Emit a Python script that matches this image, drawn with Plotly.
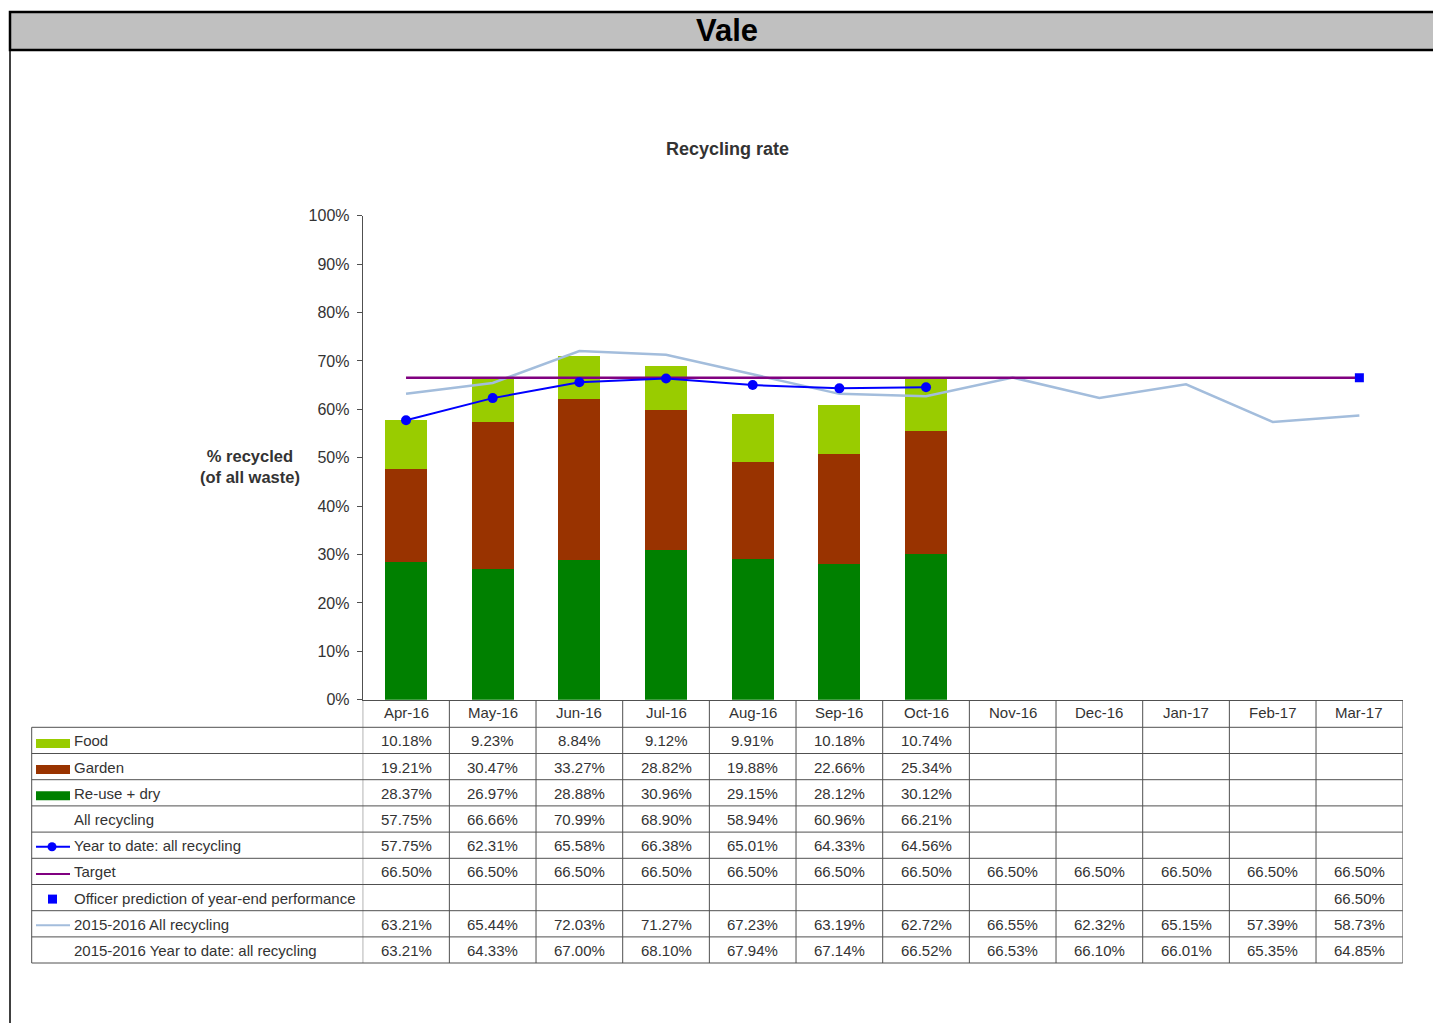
import plotly.graph_objects as go

# ---------------- data ----------------
months = ["Apr-16", "May-16", "Jun-16", "Jul-16", "Aug-16", "Sep-16", "Oct-16",
          "Nov-16", "Dec-16", "Jan-17", "Feb-17", "Mar-17"]
food = [10.18, 9.23, 8.84, 9.12, 9.91, 10.18, 10.74]
garden = [19.21, 30.47, 33.27, 28.82, 19.88, 22.66, 25.34]
reuse_dry = [28.37, 26.97, 28.88, 30.96, 29.15, 28.12, 30.12]
all_recycling = [57.75, 66.66, 70.99, 68.90, 58.94, 60.96, 66.21]
ytd_all = [57.75, 62.31, 65.58, 66.38, 65.01, 64.33, 64.56]
target = [66.50] * 12
officer_pred = [None] * 11 + [66.50]
prev_all = [63.21, 65.44, 72.03, 71.27, 67.23, 63.19, 62.72, 66.55, 62.32, 65.15, 57.39, 58.73]
prev_ytd = [63.21, 64.33, 67.00, 68.10, 67.94, 67.14, 66.52, 66.53, 66.10, 66.01, 65.35, 64.85]

row_labels = ["Food", "Garden", "Re-use + dry", "All recycling", "Year to date: all recycling",
              "Target", "Officer prediction of year-end performance",
              "2015-2016 All recycling", "2015-2016 Year to date: all recycling"]
row_values = [food, garden, reuse_dry, all_recycling, ytd_all, target, officer_pred, prev_all, prev_ytd]

# ---------------- styles ----------------
W, H = 1433, 1023
FONT = "Liberation Sans, Arial, sans-serif"
C_FOOD, C_GARDEN, C_REUSE = "#99CC00", "#993300", "#008000"
C_YTD, C_TARGET, C_PREV = "#0000FF", "#800080", "#A3BDDC"
GRID = "#505050"
TXT = "#333333"


def px(x):
    return x / W


def py(y):
    return 1 - y / H


fig = go.Figure()

fig.add_trace(go.Bar(x=months[:len(reuse_dry)], y=reuse_dry, marker_color=C_REUSE, name="Re-use + dry",
                     marker_line_width=0))
fig.add_trace(go.Bar(x=months[:len(garden)], y=garden, marker_color=C_GARDEN, name="Garden",
                     marker_line_width=0))
fig.add_trace(go.Bar(x=months[:len(food)], y=food, marker_color=C_FOOD, name="Food",
                     marker_line_width=0))
fig.add_trace(go.Scatter(x=months, y=prev_all, mode="lines", line=dict(color=C_PREV, width=2.5),
                         name="2015-2016 All recycling"))
fig.add_trace(go.Scatter(x=months, y=target, mode="lines", line=dict(color=C_TARGET, width=2.5),
                         name="Target"))
fig.add_trace(go.Scatter(x=months[:len(ytd_all)], y=ytd_all, mode="lines+markers",
                         line=dict(color=C_YTD, width=2), marker=dict(size=10, color=C_YTD),
                         name="Year to date: all recycling"))
fig.add_trace(go.Scatter(x=months, y=officer_pred, mode="markers",
                         marker=dict(symbol="square", size=9, color=C_YTD),
                         name="Officer prediction of year-end performance"))

shapes = []
annotations = []

# title bar + frame
shapes.append(dict(type="rect", xref="paper", yref="paper", x0=px(10), x1=px(1445), y0=py(50), y1=py(12),
                   fillcolor="#C0C0C0", line=dict(color="black", width=2.5), layer="below"))
shapes.append(dict(type="line", xref="paper", yref="paper", x0=px(10), x1=px(10), y0=py(50), y1=py(1030),
                   line=dict(color="black", width=1.5)))
annotations.append(dict(text="<b>Vale</b>", x=px(727), y=py(31), xref="paper", yref="paper",
                        showarrow=False, font=dict(family=FONT, size=31, color="black"),
                        xanchor="center", yanchor="middle"))
annotations.append(dict(text="<b>Recycling rate</b>", x=px(727), y=py(149), xref="paper", yref="paper",
                        showarrow=False, font=dict(family=FONT, size=18, color=TXT),
                        xanchor="center", yanchor="middle"))
annotations.append(dict(text="<b>% recycled<br>(of all waste)</b>", x=px(250), y=py(466), xref="paper",
                        yref="paper", showarrow=False, font=dict(family=FONT, size=16.5, color=TXT),
                        xanchor="center", yanchor="middle"))

# ---------------- data table ----------------
row_lines = [727.3, 753.5, 779.7, 805.9, 832.1, 858.3, 884.5, 910.7, 936.9, 963.0]
header_top, header_mid = 700, 712
for i, yl in enumerate(row_lines):
    shapes.append(dict(type="line", xref="paper", yref="paper", x0=px(31.7), x1=px(1402.7),
                       y0=py(yl), y1=py(yl), line=dict(color=GRID, width=1)))
shapes.append(dict(type="line", xref="paper", yref="paper", x0=px(31.7), x1=px(31.7),
                   y0=py(row_lines[0]), y1=py(row_lines[-1]), line=dict(color=GRID, width=1)))
for k in range(len(months) + 1):
    shapes.append(dict(type="line", xref="x", yref="paper", x0=k - 0.5, x1=k - 0.5,
                       y0=py(header_top), y1=py(row_lines[-1]), line=dict(color=GRID, width=1)))

for m in months:
    annotations.append(dict(text=m, x=m, y=py(header_mid), xref="x", yref="paper", showarrow=False,
                            font=dict(family=FONT, size=15, color=TXT), xanchor="center", yanchor="middle"))

for r, (label, vals) in enumerate(zip(row_labels, row_values)):
    yc = (row_lines[r] + row_lines[r + 1]) / 2 + 0.5
    annotations.append(dict(text=label, x=px(72), y=py(yc), xref="paper", yref="paper", showarrow=False,
                            font=dict(family=FONT, size=15, color=TXT), xanchor="left", yanchor="middle"))
    for m, v in zip(months, vals):
        if v is None:
            continue
        annotations.append(dict(text=f"{v:.2f}%", x=m, y=py(yc), xref="x", yref="paper", showarrow=False,
                                font=dict(family=FONT, size=15, color=TXT), xanchor="center",
                                yanchor="middle"))


# legend keys in the table label column
def row_c(r):
    return (row_lines[r] + row_lines[r + 1]) / 2


for r, col in [(0, C_FOOD), (1, C_GARDEN), (2, C_REUSE)]:
    yc = row_c(r) + 3
    shapes.append(dict(type="rect", xref="paper", yref="paper", x0=px(36), x1=px(70), y0=py(yc + 4.5),
                       y1=py(yc - 4.5), fillcolor=col, line=dict(width=0)))
yc = row_c(4) + 1.5
shapes.append(dict(type="line", xref="paper", yref="paper", x0=px(36), x1=px(70), y0=py(yc), y1=py(yc),
                   line=dict(color=C_YTD, width=2)))
shapes.append(dict(type="circle", xref="paper", yref="paper", x0=px(47.5), x1=px(56.5), y0=py(yc + 4.5),
                   y1=py(yc - 4.5), fillcolor=C_YTD, line=dict(width=0)))
yc = row_c(5) + 2.5
shapes.append(dict(type="line", xref="paper", yref="paper", x0=px(36), x1=px(70), y0=py(yc), y1=py(yc),
                   line=dict(color=C_TARGET, width=2)))
yc = row_c(6) + 1.5
shapes.append(dict(type="rect", xref="paper", yref="paper", x0=px(48), x1=px(57), y0=py(yc + 4.5),
                   y1=py(yc - 4.5), fillcolor=C_YTD, line=dict(width=0)))
yc = row_c(7) + 1.5
shapes.append(dict(type="line", xref="paper", yref="paper", x0=px(36), x1=px(70), y0=py(yc), y1=py(yc),
                   line=dict(color=C_PREV, width=2)))

fig.update_layout(
    width=W, height=H,
    margin=dict(l=0, r=0, t=0, b=0, pad=0, autoexpand=False),
    paper_bgcolor="white", plot_bgcolor="white",
    barmode="stack", bargap=0.515,
    showlegend=False,
    font=dict(family=FONT, color=TXT),
    shapes=shapes,
    annotations=annotations,
    xaxis=dict(domain=[px(362.7), px(1402.7)], showticklabels=False, ticks="", showgrid=False,
               showline=True, linecolor=GRID, linewidth=1, zeroline=False, automargin=False,
               categoryorder="array", categoryarray=months, range=[-0.5, len(months) - 0.5]),
    yaxis=dict(domain=[py(699.7), py(215.7)], range=[0, 100], dtick=10, ticksuffix="%",
               showgrid=False, zeroline=False, showline=True, linecolor=GRID, linewidth=1,
               ticks="outside", ticklen=5, tickcolor=GRID, automargin=False, ticklabelstandoff=4,
               tickfont=dict(family=FONT, size=16, color=TXT)),
)

fig.write_html("out.html", config={"displayModeBar": False},
               post_script="document.body.style.margin='0';document.body.style.overflow='hidden';")
